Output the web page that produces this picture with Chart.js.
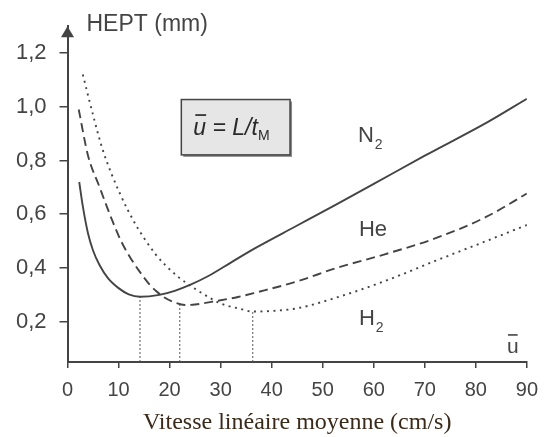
<!DOCTYPE html>
<html>
<head>
<meta charset="utf-8">
<script src="https://cdn.jsdelivr.net/npm/chart.js@4"></script>
<style>
  html, body { margin: 0; padding: 0; background: #fff; }
  #wrap { width: 548px; height: 437px; }
</style>
</head>
<body>
<div id="wrap"><canvas id="chart"></canvas></div>
<script>
const xTicks = [0, 10, 20, 30, 40, 50, 60, 70, 80, 90];
const yTicks = [0.2, 0.4, 0.6, 0.8, 1.0, 1.2];
const yMin = 0.05, yMax = 1.3;

// N2 (solid)
const n2X = [2.3, 3, 4, 5, 6.3, 8, 10, 12, 14.2, 18, 21, 24, 27.6, 32, 36.6, 45, 52.7, 60, 70, 82.3, 90];
const n2Y = [0.72, 0.63, 0.53, 0.465, 0.41, 0.36, 0.325, 0.302, 0.293, 0.30, 0.315, 0.337, 0.37, 0.42, 0.472, 0.558, 0.637, 0.713, 0.818, 0.943, 1.03];
// He (dashed)
const heX = [2.2, 4, 6.3, 8.8, 10.5, 12.1, 14, 16, 17.3, 19, 21.2, 23, 25, 28.2, 33.4, 37.2, 45, 52.7, 62, 72, 82, 90];
const heY = [0.99, 0.82, 0.70, 0.575, 0.50, 0.445, 0.39, 0.34, 0.315, 0.29, 0.27, 0.262, 0.264, 0.274, 0.292, 0.31, 0.35, 0.40, 0.45, 0.51, 0.59, 0.677];
// H2 (dotted)
const h2X = [3, 5, 6.9, 10.2, 13.4, 15.4, 17.3, 19.2, 21.8, 24, 26.2, 30.1, 33.4, 36.3, 40, 45, 52.7, 62, 72, 82, 90];
const h2Y = [1.12, 0.97, 0.84, 0.68, 0.56, 0.50, 0.45, 0.41, 0.365, 0.335, 0.308, 0.267, 0.25, 0.238, 0.24, 0.25, 0.29, 0.35, 0.426, 0.50, 0.56];

// optimum velocity of each gas (N2, He, H2)
const minX = [14.2, 22, 36.3];
const minY = [0.293, 0.262, 0.238];

const ink = '#444';
const sans = "'Liberation Sans', Arial, sans-serif";
const serif = "'Liberation Serif', 'Times New Roman', serif";

const pts = (xs, ys) => xs.map((x, i) => ({x: x, y: ys[i]}));

const curve = (data, dash) => ({
  data: data,
  borderColor: ink,
  borderWidth: 1.9,
  borderDash: dash,
  pointRadius: 0,
  cubicInterpolationMode: 'monotone',
  fill: false,
});

const drops = minX.map((x, i) => ({
  data: [{x: x, y: yMin}, {x: x, y: minY[i]}],
  borderColor: '#555',
  borderWidth: 1,
  borderDash: [2, 2],
  pointRadius: 0,
}));

// texts placed in data units
const gasLabels = [
  {text: 'N', sub: '2', x: 56.9, y: 0.869},
  {text: 'He', sub: '', x: 57.1, y: 0.518},
  {text: 'H', sub: '2', x: 57.1, y: 0.186},
];

const decor = {
  id: 'decor',
  afterDraw(chart) {
    const {ctx, chartArea: a, scales: {x, y}} = chart;
    ctx.save();
    ctx.fillStyle = ink;

    // arrow on the y axis
    ctx.beginPath();
    ctx.moveTo(a.left, a.top);
    ctx.lineTo(a.left - 6.5, a.top + 11);
    ctx.lineTo(a.left + 6.5, a.top + 11);
    ctx.closePath();
    ctx.fill();

    ctx.textBaseline = 'alphabetic';
    ctx.textAlign = 'left';
    ctx.font = '23px ' + sans;
    ctx.fillText('HEPT (mm)', a.left + 19, 31);

    // gas labels
    gasLabels.forEach(l => {
      const px = x.getPixelForValue(l.x), py = y.getPixelForValue(l.y);
      ctx.font = '22px ' + sans;
      ctx.fillText(l.text, px, py);
      if (l.sub) {
        const w = ctx.measureText(l.text).width;
        ctx.font = '14px ' + sans;
        ctx.fillText(l.sub, px + w + 1, py + 7);
      }
    });

    // u bar near the end of the x axis
    const ux = x.getPixelForValue(86.1), uy = y.getPixelForValue(0.083);
    ctx.font = '21px ' + sans;
    ctx.fillText('u', ux, uy);
    const uw = ctx.measureText('u').width;
    ctx.fillRect(ux + 1, uy - 19, uw - 2, 1.6);

    // formula box
    const bx0 = x.getPixelForValue(22.3), bx1 = x.getPixelForValue(43.6);
    const by0 = y.getPixelForValue(1.027), by1 = y.getPixelForValue(0.821);
    ctx.fillStyle = '#8a8a8a';
    ctx.fillRect(bx0 + 2, by0 + 2, bx1 - bx0, by1 - by0);
    ctx.fillStyle = '#e6e6e6';
    ctx.fillRect(bx0, by0, bx1 - bx0, by1 - by0);
    ctx.strokeStyle = '#444';
    ctx.lineWidth = 1.5;
    ctx.strokeRect(bx0, by0, bx1 - bx0, by1 - by0);

    ctx.fillStyle = '#2a2a2a';
    let tx = bx0 + 12;
    const ty = (by0 + by1) / 2 + 8;
    ctx.font = 'italic 23px ' + sans;
    ctx.fillText('u', tx, ty);
    const w1 = ctx.measureText('u').width;
    ctx.fillRect(tx + 2, ty - 21, w1 - 2, 1.7);
    tx += w1;
    ctx.fillText(' = L/t', tx, ty);
    tx += ctx.measureText(' = L/t').width;
    ctx.font = '14px ' + sans;
    ctx.fillText('M', tx, ty + 5);
    ctx.restore();
  }
};

new Chart(document.getElementById('chart'), {
  type: 'line',
  data: {
    datasets: [
      curve(pts(n2X, n2Y), []),
      curve(pts(heX, heY), [9, 5]),
      curve(pts(h2X, h2Y), [2, 4.5]),
      ...drops,
    ],
  },
  options: {
    responsive: true,
    maintainAspectRatio: false,
    animation: false,
    layout: { padding: {top: 23, right: 15, left: 0, bottom: 0} },
    plugins: {
      legend: { display: false },
      tooltip: { enabled: false },
    },
    scales: {
      x: {
        type: 'linear',
        min: 0,
        max: 90,
        afterBuildTicks: s => { s.ticks = xTicks.map(v => ({value: v})); },
        afterFit: s => { s.height = 75; },
        grid: { display: true, drawOnChartArea: false, drawTicks: true, tickLength: 6, color: ink, lineWidth: 1.5 },
        border: { display: true, color: ink, width: 2 },
        ticks: { color: '#444', font: { family: sans, size: 20 }, padding: 10, maxRotation: 0 },
        title: {
          display: true,
          text: 'Vitesse linéaire moyenne (cm/s)',
          color: '#3a2a1a',
          font: { family: serif, size: 24 },
          padding: {top: 0, bottom: 0},
        },
      },
      y: {
        type: 'linear',
        min: yMin,
        max: yMax,
        afterBuildTicks: s => { s.ticks = yTicks.map(v => ({value: v})); },
        afterFit: s => { s.width = 67.5; },
        grid: { display: true, drawOnChartArea: false, drawTicks: true, tickLength: 8, color: ink, lineWidth: 1.5 },
        border: { display: true, color: ink, width: 2 },
        ticks: {
          color: '#444',
          font: { family: sans, size: 22 },
          padding: 13,
          callback: v => v.toFixed(1).replace('.', ','),
        },
      },
    },
  },
  plugins: [decor],
});
</script>
</body>
</html>
